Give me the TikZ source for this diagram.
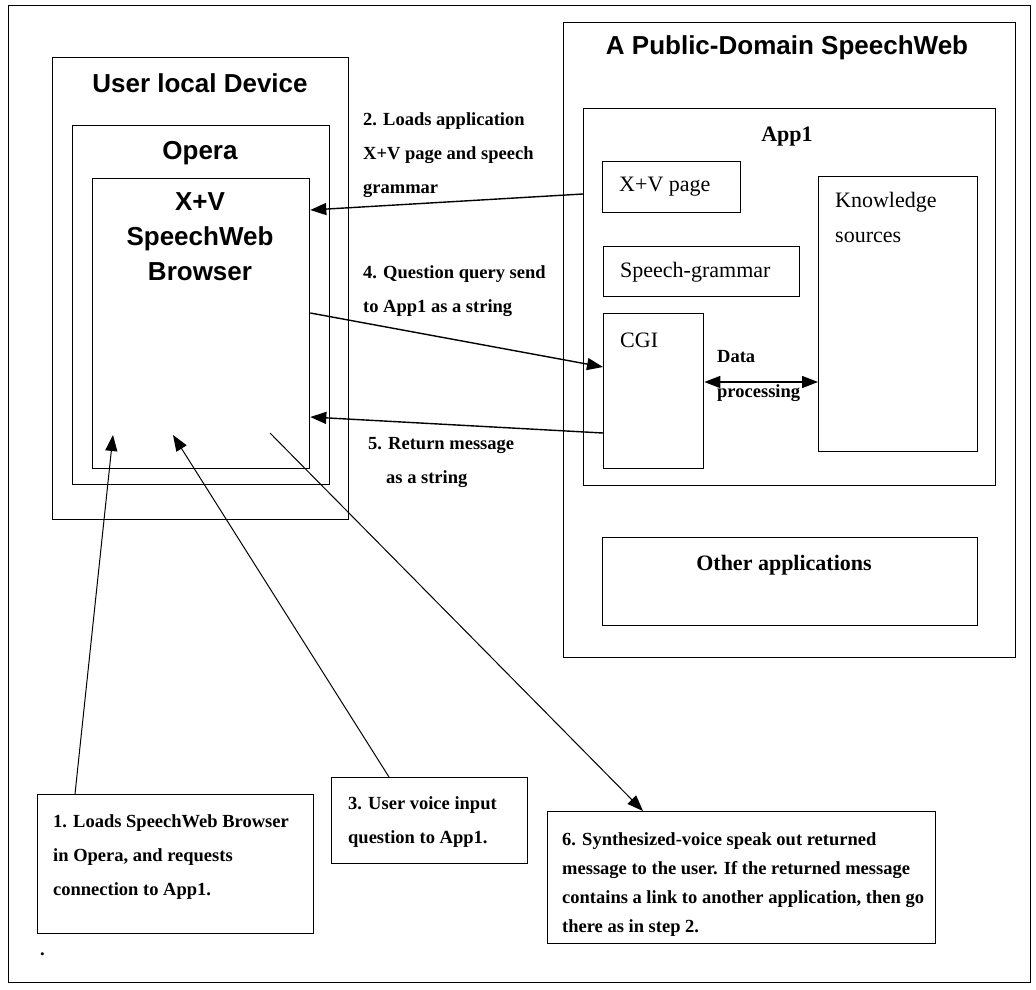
\documentclass[tikz,border=0pt]{standalone}
\usepackage{fontspec}
\setmainfont{Liberation Serif}
\setsansfont{Liberation Sans}
\usetikzlibrary{arrows.meta}
\begin{document}
\begin{tikzpicture}[x=1pt,y=-1pt,
		box/.style={draw,line width=1.3pt,inner sep=0pt,anchor=north west},
		head/.style={font=\sffamily\bfseries\fontsize{26}{35}\selectfont,align=center,inner sep=0pt},
		lbl/.style={font=\fontsize{22}{35}\selectfont,inner sep=0pt,align=left},
		stp/.style={font=\bfseries\fontsize{18.5}{34}\selectfont,anchor=north west,inner sep=0pt,align=left},
		arr/.style={line width=1.4pt,-{Triangle[length=16pt,width=12pt]}},
		lead/.style={line width=1pt,-{Triangle[length=16pt,width=12pt]}}]
		\useasboundingbox (0,0) rectangle (1036,990);
		\node[box,minimum width=1022pt,minimum height=977pt] (frame) at (8,5) {};
		\node[box,minimum width=296pt,minimum height=462pt] (uld) at (52,57) {};
		\node[box,minimum width=257pt,minimum height=359pt] (opera) at (72,125) {};
		\node[box,minimum width=217pt,minimum height=290pt] (browser) at (92,178) {};
		\node[box,minimum width=452pt,minimum height=635pt] (web) at (563,22) {};
		\node[box,minimum width=412pt,minimum height=377pt] (app1) at (583,108) {};
		\node[box,minimum width=138pt,minimum height=51pt] (xvpage) at (602,161) {};
		\node[box,minimum width=159pt,minimum height=275pt] (know) at (818,176) {};
		\node[box,minimum width=196pt,minimum height=50pt] (grammar) at (603,246) {};
		\node[box,minimum width=100pt,minimum height=155pt] (cgi) at (603,313) {};
		\node[box,minimum width=375pt,minimum height=88pt] (other) at (602,537) {};
		\node[box,minimum width=276pt,minimum height=139pt] (step1) at (37,794) {};
		\node[box,minimum width=196pt,minimum height=86pt] (step3) at (331,777) {};
		\node[box,minimum width=388pt,minimum height=132pt] (step6) at (547,811) {};
		\node[head] (uldtitle) at (200,83) {User local Device};
		\node[head] (operatitle) at (200,153) {Opera};
		\node[head] (browsertitle) at (200,237) {X+V\\SpeechWeb\\Browser};
		\node[head] (webtitle) at (787,48) {A Public-Domain SpeechWeb};
		\node[lbl,font=\bfseries\fontsize{22}{35}\selectfont] (app1title) at (787,137) {App1};
		\node[lbl,anchor=west] (xvtext) at (619,187) {X+V page};
		\node[lbl,anchor=north west] (knowtext) at (835,192) {Knowledge\\sources};
		\node[lbl,anchor=west] (grammartext) at (620,272) {Speech-grammar};
		\node[lbl,anchor=west] (cgitext) at (620,340) {CGI};
		\node[stp,font=\bfseries\fontsize{18.5}{35}\selectfont] (datatext) at (717,350) {Data\\processing};
		\node[lbl,font=\bfseries\fontsize{22}{35}\selectfont] (othertext) at (784,565) {Other applications};
		\node[stp] (load2) at (363,112) {2. Loads application\\X+V page and speech\\grammar};
		\node[stp] (query4) at (363,265) {4. Question query send\\to App1 as a string};
		\node[stp] (return5) at (368,437) {5. Return message\\\hspace*{18pt}as a string};
		\node[stp] (text1) at (53,814) {1. Loads SpeechWeb Browser\\in Opera, and requests\\connection to App1.};
		\node[stp] (text3) at (348,796) {3. User voice input\\question to App1.};
		\node[stp,font=\bfseries\fontsize{18.5}{29}\selectfont] (text6) at (562,832) {6. Synthesized-voice speak out returned\\message to the user. If the returned message\\contains a link to another application, then go\\there as in step 2.};
		\node[stp] (dot) at (40,953) {.};
		\coordinate (tip1) at (113,435);
		\coordinate (tip3) at (173,435);
		\coordinate (from6) at (270,433);
		\draw[arr] (app1.west |- 0,194) -- (browser.east |- 0,210);
		\draw[arr] (browser.east |- 0,313) -- (cgi.west |- 0,367);
		\draw[arr] (cgi.west |- 0,433) -- (browser.east |- 0,417);
		\draw[arr,{Triangle[length=16pt,width=12pt]}-{Triangle[length=16pt,width=12pt]}] (cgi.east |- 0,382) -- (know.west |- 0,382);
		\draw[lead] (step1.north -| 75,0) -- (tip1);
		\draw[lead] (step3.north -| 389,0) -- (tip3);
		\draw[lead] (from6) -- (step6.north -| 643,0);
\end{tikzpicture}
\end{document}
